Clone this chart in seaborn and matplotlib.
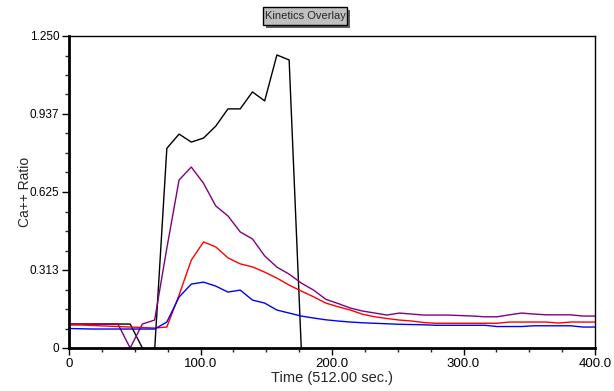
import numpy as np
import pandas as pd
import matplotlib
matplotlib.use('Agg')
import matplotlib.pyplot as plt
import seaborn as sns
from matplotlib.patches import FancyBboxPatch

# time points (sampled every ~9.3 units)
time = [0, 9.3, 18.6, 27.9, 37.2, 46.5, 55.8, 65.1, 74.4, 83.7,
        93.0, 102.3, 111.6, 120.9, 130.2, 139.5, 148.8, 158.1, 167.4, 176.7,
        186.0, 195.3, 204.7, 214.0, 223.3, 232.6, 241.9, 251.2, 260.5, 269.8,
        279.1, 288.4, 297.7, 307.0, 316.3, 325.6, 334.9, 344.2, 353.5, 362.8,
        372.1, 381.4, 390.7, 400.0]

black = [0.096, 0.096, 0.096, 0.096, 0.096, 0.096, 0.0, -0.01, 0.80, 0.857,
         0.825, 0.841, 0.889, 0.958, 0.958, 1.026, 0.99, 1.174, 1.154, -0.01]

purple = [0.096, 0.096, 0.096, 0.096, 0.096, 0.0, 0.096, 0.112, 0.40, 0.673,
          0.725, 0.66, 0.569, 0.529, 0.465, 0.437, 0.369, 0.324, 0.296, 0.26,
          0.232, 0.195, 0.178, 0.16, 0.148, 0.14, 0.132, 0.14, 0.136, 0.132,
          0.132, 0.132, 0.130, 0.128, 0.125, 0.125, 0.133, 0.14, 0.136, 0.133,
          0.133, 0.133, 0.128, 0.128]

red = [0.092, 0.092, 0.090, 0.088, 0.086, 0.084, 0.082, 0.080, 0.084, 0.212,
       0.352, 0.425, 0.405, 0.361, 0.337, 0.325, 0.304, 0.28, 0.252, 0.228,
       0.205, 0.18, 0.165, 0.152, 0.135, 0.125, 0.118, 0.112, 0.108, 0.102,
       0.099, 0.099, 0.099, 0.099, 0.099, 0.099, 0.104, 0.104, 0.104, 0.104,
       0.100, 0.104, 0.104, 0.104]

blue = [0.078, 0.077, 0.076, 0.076, 0.076, 0.076, 0.076, 0.076, 0.104, 0.204,
        0.256, 0.264, 0.248, 0.224, 0.232, 0.192, 0.18, 0.152, 0.14, 0.128,
        0.12, 0.113, 0.108, 0.104, 0.101, 0.099, 0.097, 0.095, 0.094, 0.093,
        0.091, 0.091, 0.091, 0.091, 0.091, 0.086, 0.086, 0.086, 0.089, 0.089,
        0.089, 0.089, 0.084, 0.084]

series = {'black': black, 'purple': purple, 'red': red, 'blue': blue}
colors = {'black': '#000000', 'purple': '#800080', 'red': '#ff0000', 'blue': '#0000ff'}

frames = []
for name, vals in series.items():
    frames.append(pd.DataFrame({'Time': time[:len(vals)], 'Ratio': vals, 'trace': name}))
df = pd.concat(frames, ignore_index=True)

sns.set_style('white')
plt.rcParams['font.family'] = ['Liberation Sans', 'DejaVu Sans']

fig = plt.figure(figsize=(6.14, 3.91), dpi=100)
ax = fig.add_axes([69 / 614, 1 - 348 / 391, (595 - 69) / 614, (348 - 36) / 391])

sns.lineplot(data=df, x='Time', y='Ratio', hue='trace', palette=colors,
             linewidth=1, legend=False, ax=ax, estimator=None, sort=False)

ax.set_xlim(0, 400)
ax.set_ylim(0, 1.25)
ax.set_xticks([0, 100, 200, 300, 400])
ax.set_xticklabels(['0', '100.0', '200.0', '300.0', '400.0'])
ax.set_xticks(np.arange(0, 401, 25), minor=True)
ax.set_yticks([0, 0.3125, 0.625, 0.9375, 1.25])
ax.set_yticklabels(['0', '0.313', '0.625', '0.937', '1.250'])
ax.set_yticks(np.arange(0, 1.26, 0.078125), minor=True)
ax.tick_params(axis='both', which='major', length=5, width=1, direction='out',
               labelsize=8.5, colors='black', pad=2)
ax.tick_params(axis='x', which='major', labelsize=9.5)
ax.tick_params(axis='both', which='minor', length=3, width=1, direction='out')
ax.tick_params(axis='x', which='both', bottom=True)
ax.tick_params(axis='y', which='both', left=True)

for side in ['left', 'bottom']:
    ax.spines[side].set_linewidth(2)
    ax.spines[side].set_color('black')
for side in ['top', 'right']:
    ax.spines[side].set_linewidth(1)
    ax.spines[side].set_color('black')

ax.set_xlabel('Time (512.00 sec.)', fontsize=10.5, labelpad=1)
ax.set_ylabel('Ca++ Ratio', fontsize=10)
ax.yaxis.set_label_coords(-(69 - 32) / 526, 0.5)

# title box with drop shadow
shadow = FancyBboxPatch((266 / 614, 1 - 28 / 391), 84 / 614, 18 / 391,
                        boxstyle='square,pad=0', transform=fig.transFigure,
                        facecolor='#606060', edgecolor='none')
box = FancyBboxPatch((263 / 614, 1 - 25 / 391), 84 / 614, 18 / 391,
                     boxstyle='square,pad=0', transform=fig.transFigure,
                     facecolor='#c0c0c0', edgecolor='black', linewidth=1)
fig.patches.extend([shadow, box])
fig.text(305 / 614, 1 - 16 / 391, 'Kinetics Overlay', ha='center', va='center',
         fontsize=8)

fig.savefig('out.png', dpi=100)
